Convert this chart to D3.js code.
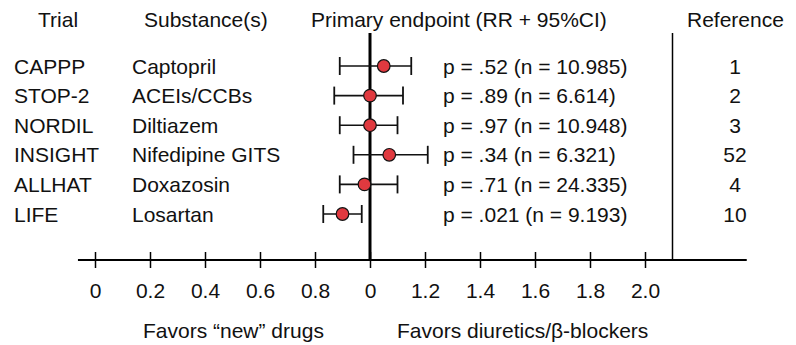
<!DOCTYPE html>
<html><head><meta charset="utf-8">
<script src="https://cdn.jsdelivr.net/npm/d3@7"></script>
<style>
html,body{margin:0;padding:0;background:#fff;}
svg text{font-family:"Liberation Sans",Arial,Helvetica,sans-serif;font-size:21px;fill:#111;}
</style></head>
<body><svg id="chart" width="796" height="345"></svg>
<script>
const trials = ["CAPPP","STOP-2","NORDIL","INSIGHT","ALLHAT","LIFE"];
const substances = ["Captopril","ACEIs/CCBs","Diltiazem","Nifedipine GITS","Doxazosin","Losartan"];
const rr = [1.05, 1.00, 1.00, 1.07, 0.98, 0.90];
const ciLow = [0.89, 0.87, 0.89, 0.94, 0.89, 0.83];
const ciHigh = [1.15, 1.12, 1.10, 1.21, 1.10, 0.97];
const pText = ["p = .52 (n = 10.985)","p = .89 (n = 6.614)","p = .97 (n = 10.948)","p = .34 (n = 6.321)","p = .71 (n = 24.335)","p = .021 (n = 9.193)"];
const references = ["1","2","3","52","4","10"];
const tickValues = [0,0.2,0.4,0.6,0.8,1.0,1.2,1.4,1.6,1.8,2.0];
const tickLabels = ["0","0.2","0.4","0.6","0.8","0","1.2","1.4","1.6","1.8","2.0"];
const headers = ["Trial","Substance(s)","Primary endpoint (RR + 95%CI)","Reference"];
const footers = ["Favors \u201cnew\u201d drugs","Favors diuretics/\u03b2-blockers"];
const axisExtent = [-0.062, 2.37];
const separatorValue = 2.1;

const svg = d3.select("#chart");
const x = d3.scaleLinear().domain([0,2]).range([95,645]);
const y = d3.scalePoint().domain(trials).range([66,214]);
const axisY = 260, topY = 33;

// headers
const headerX = [38,144,311,687];
svg.selectAll("text.hdr").data(headers).join("text").attr("class","hdr")
  .attr("x",(d,i)=>headerX[i]).attr("y",27).text(d=>d);

// row texts
const rows = svg.append("g");
trials.forEach((t,i)=>{
  const cy = y(t)+7.5;
  rows.append("text").attr("x",14).attr("y",cy).text(t);
  rows.append("text").attr("x",132).attr("y",cy).text(substances[i]);
  rows.append("text").attr("x",443).attr("y",cy).text(pText[i]);
  rows.append("text").attr("x",735).attr("y",cy).attr("text-anchor","middle").text(references[i]);
});

// reference line at 1.0 and separator
svg.append("line").attr("x1",x(1)).attr("x2",x(1)).attr("y1",topY).attr("y2",axisY)
  .attr("stroke","#000").attr("stroke-width",3);
svg.append("line").attr("x1",x(separatorValue)).attr("x2",x(separatorValue)).attr("y1",topY).attr("y2",axisY)
  .attr("stroke","#000").attr("stroke-width",1.5);

// axis
svg.append("line").attr("x1",x(axisExtent[0])).attr("x2",x(axisExtent[1])).attr("y1",axisY).attr("y2",axisY)
  .attr("stroke","#000").attr("stroke-width",2.2);
const ax = svg.append("g").attr("transform",`translate(0,${axisY})`)
  .call(d3.axisBottom(x).tickValues(tickValues).tickFormat((d,i)=>tickLabels[i]).tickSize(8).tickPadding(30));
ax.select(".domain").remove();
ax.selectAll(".tick line").attr("y1",-8).attr("y2",8).attr("stroke","#000").attr("stroke-width",1.5);
ax.selectAll(".tick text").attr("font-size",null).attr("font-family",null).attr("fill",null)
  .attr("y",38).attr("dy",null);
ax.attr("font-size",null).attr("font-family",null);

// error bars
const eb = svg.append("g");
trials.forEach((t,i)=>{
  const cy = y(t);
  eb.append("line").attr("x1",x(ciLow[i])).attr("x2",x(ciHigh[i])).attr("y1",cy).attr("y2",cy).attr("stroke","#111").attr("stroke-width",1.6);
  [ciLow[i],ciHigh[i]].forEach(v=>{
    eb.append("line").attr("x1",x(v)).attr("x2",x(v)).attr("y1",cy-9).attr("y2",cy+9).attr("stroke","#111").attr("stroke-width",1.8);
  });
  eb.append("circle").attr("cx",x(rr[i])).attr("cy",cy).attr("r",6.3)
    .attr("fill","#e0393f").attr("stroke","#111").attr("stroke-width",1.2);
});

// footers
svg.append("text").attr("x",143).attr("y",338).text(footers[0]);
svg.append("text").attr("x",397).attr("y",338).text(footers[1]);
</script></body></html>
